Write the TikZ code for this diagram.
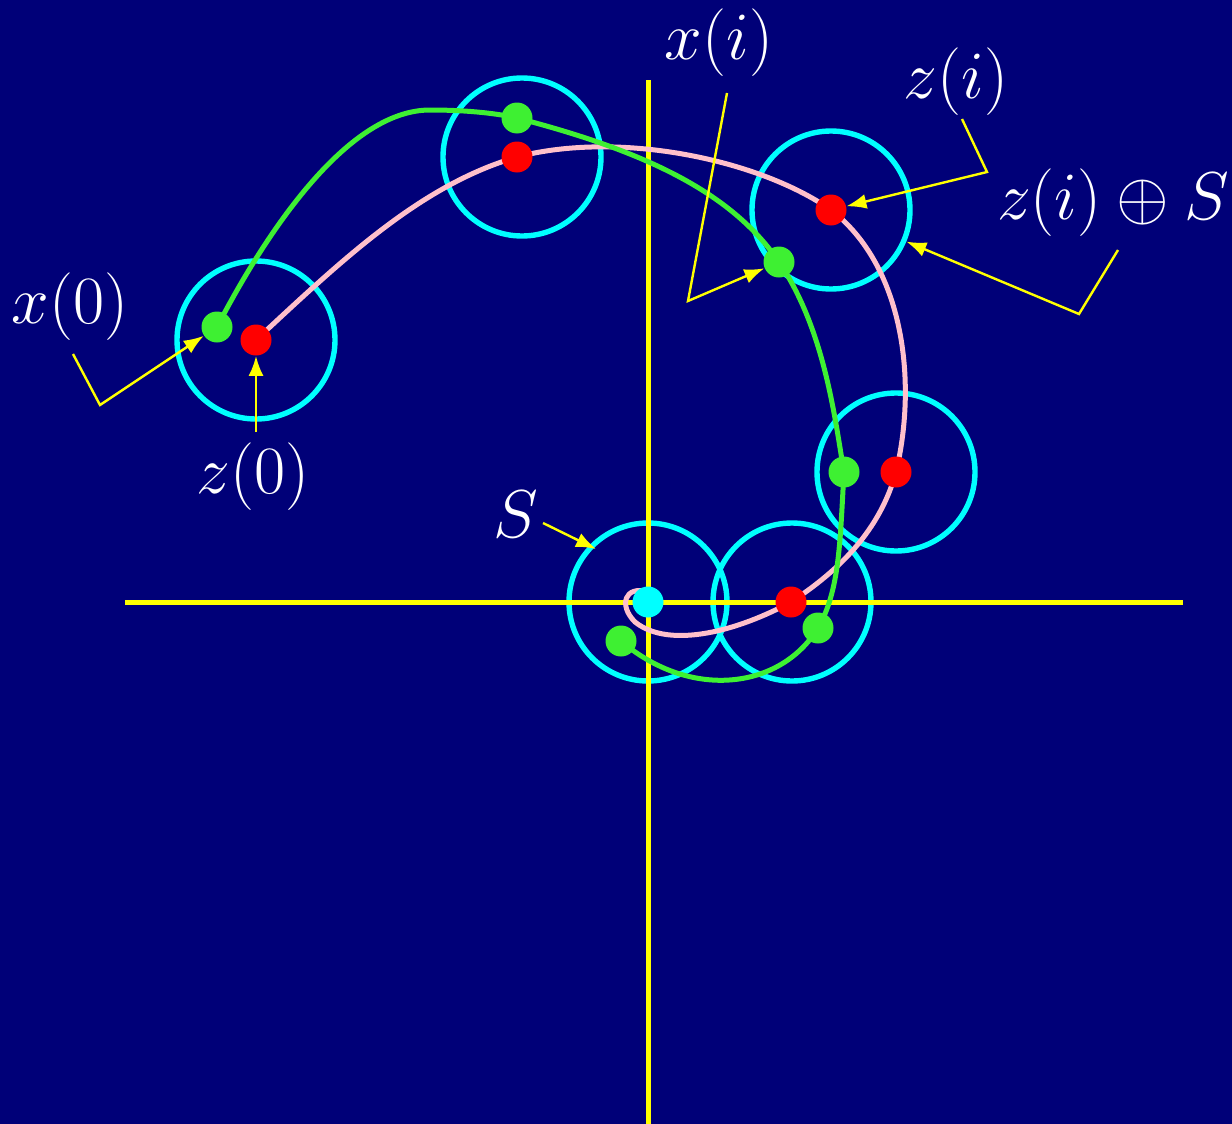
\documentclass[tikz,border=0pt]{standalone}
\usepackage{graphicx}
\usetikzlibrary{arrows.meta}
\definecolor{bg}{RGB}{0,0,120}
\definecolor{ringc}{RGB}{0,255,255}
\definecolor{grn}{RGB}{62,240,50}
\definecolor{pnk}{RGB}{255,192,203}
\definecolor{ylw}{RGB}{255,255,0}
\definecolor{rd}{RGB}{255,0,0}
\newcommand\lbltxt[1]{\scalebox{1.36}{$#1$}}
\begin{document}
\begin{tikzpicture}[x=0.5pt,y=-0.5pt,
  ring/.style={circle,draw=ringc,line width=2.7pt,minimum size=79pt,inner sep=0pt},
  zdot/.style={circle,fill=rd,minimum size=15.5pt,inner sep=0pt},
  xdot/.style={circle,fill=grn,minimum size=15.5pt,inner sep=0pt},
  sdot/.style={circle,fill=ringc,minimum size=15.5pt,inner sep=0pt},
  axisline/.style={draw=ylw,line width=2.5pt},
  zpath/.style={draw=pnk,line width=2.5pt},
  xpath/.style={draw=grn,line width=2.5pt},
  ann/.style={draw=ylw,line width=1.2pt,-{Latex[length=10pt,width=7.5pt]}},
  lab/.style={text=white,inner sep=0pt,font=\fontsize{24.88}{30}\selectfont}]
\fill[bg] (0,0) rectangle (1232,1124);
\useasboundingbox (0,0) rectangle (1232,1124);
% point coordinates
\coordinate (pz0) at (256,340);
\coordinate (pz1) at (517,157);
\coordinate (pz2) at (831,210);
\coordinate (pz3) at (896,472);
\coordinate (pz4) at (791,602);
\coordinate (ps) at (648,602);
\coordinate (px0) at (217,327);
\coordinate (px1) at (517,118);
\coordinate (px2) at (779,262);
\coordinate (px3) at (844,472);
\coordinate (px4) at (818,628);
\coordinate (px5) at (621,641);
% rings
\node[ring] (c0) at (256,340) {};
\node[ring] (c1) at (522,157) {};
\node[ring] (c2) at (831,210) {};
\node[ring] (c3) at (896,472) {};
\node[ring] (cs) at (648,602) {};
\node[ring] (c5) at (792,602) {};
% axes
\coordinate (axL) at (125,602);
\coordinate (axR) at (1183,602);
\coordinate (axT) at (648,80);
\coordinate (axB) at (648,1124);
\draw[axisline] (axL) -- (axR);
\draw[axisline] (axT) -- (axB);
% pink path z
\draw[zpath] (pz0) .. controls (340,262) and (420,185) .. (pz1)
  .. controls (620,130) and (760,160) .. (pz2)
  .. controls (903,265) and (918,380) .. (pz3)
  .. controls (880,530) and (840,570) .. (pz4)
  .. controls (740,630) and (670,650) .. (635,622)
  .. controls (618,605) and (625,585) .. (648,592) -- (ps);
% green path x
\draw[xpath] (px0) .. controls (270,225) and (350,110) .. (430,110)
  .. controls (470,110) and (500,114) .. (px1)
  .. controls (640,150) and (730,190) .. (px2)
  .. controls (825,330) and (835,420) .. (px3)
  .. controls (840,540) and (840,590) .. (px4)
  .. controls (780,690) and (690,700) .. (px5);
% dots
\node[zdot] (z0) at (pz0) {};
\node[zdot] (z1) at (pz1) {};
\node[zdot] (z2) at (pz2) {};
\node[zdot] (z3) at (pz3) {};
\node[zdot] (z4) at (pz4) {};
\node[sdot] (s) at (ps) {};
\node[xdot] (x0) at (px0) {};
\node[xdot] (x1) at (px1) {};
\node[xdot] (x2) at (px2) {};
\node[xdot] (x3) at (px3) {};
\node[xdot] (x4) at (px4) {};
\node[xdot] (x5) at (px5) {};
% labels
\node[lab] (lx0) at (70,307) {\lbltxt{x(0)}};
\node[lab] (lz0) at (253,477) {\lbltxt{z(0)}};
\node[lab] (lxi) at (719,43) {\lbltxt{x(i)}};
\node[lab] (lzi) at (956,82) {\lbltxt{z(i)}};
\node[lab] (lzs) at (1113,203) {\lbltxt{z(i)\oplus S}};
\node[lab] (ls) at (516,514) {\lbltxt{S}};
% annotation connectors
\coordinate (ax0s) at (73,354);
\coordinate (ax0c) at (100,405);
\draw[ann] (ax0s) -- (ax0c) -- (x0);
\coordinate (az0s) at (256,432);
\draw[ann] (az0s) -- (z0);
\coordinate (axis) at (727,93);
\coordinate (axic) at (688,301);
\draw[ann] (axis) -- (axic) -- (x2);
\coordinate (azis) at (962,119);
\coordinate (azic) at (987,172);
\draw[ann] (azis) -- (azic) -- (z2);
\coordinate (azss) at (1118,250);
\coordinate (azsc) at (1079,314);
\draw[ann] (azss) -- (azsc) -- (c2);
\coordinate (ass) at (543,523);
\coordinate (ast) at (596,549);
\draw[ann] (ass) -- (ast);
\end{tikzpicture}
\end{document}
